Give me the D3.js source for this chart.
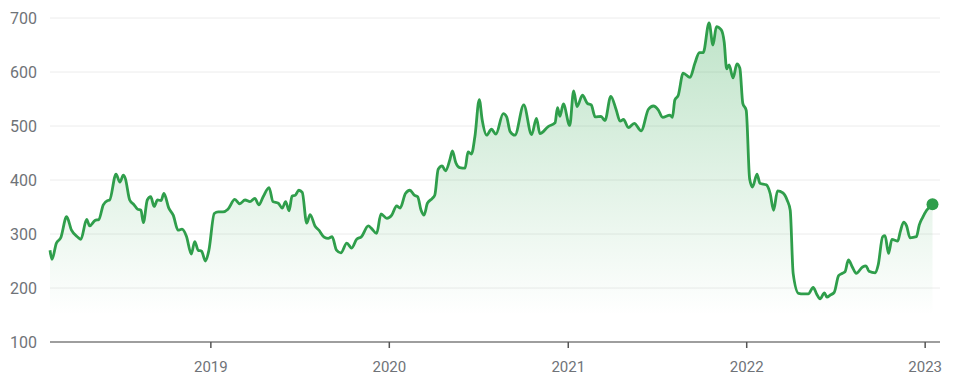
<!DOCTYPE html>
<html>
<head>
<meta charset="utf-8">
<script src="https://cdn.jsdelivr.net/npm/d3@7"></script>
<style>
  body { margin: 0; background: #fff; }
  .tick-label { font-family: Roboto, "Noto Sans", sans-serif; fill: #6f7378; }
</style>
</head>
<body>
<div class="chart"></div>
<script>

var dates = [
  "2018-02-06","2018-02-10","2018-02-19","2018-02-28","2018-03-12","2018-03-22","2018-04-04","2018-04-10",
  "2018-04-22","2018-04-28","2018-05-09","2018-05-17","2018-05-26","2018-06-04","2018-06-08","2018-06-21",
  "2018-06-29","2018-07-06","2018-07-10","2018-07-19","2018-07-28","2018-08-04","2018-08-11","2018-08-16",
  "2018-08-24","2018-08-31","2018-09-07","2018-09-14","2018-09-21","2018-09-27","2018-10-07","2018-10-16",
  "2018-10-26","2018-11-03","2018-11-12","2018-11-22","2018-11-29","2018-12-06","2018-12-13","2018-12-21",
  "2018-12-28","2019-01-08","2019-01-16","2019-01-26","2019-02-05","2019-02-19","2019-03-01","2019-03-12",
  "2019-03-22","2019-04-01","2019-04-09","2019-04-18","2019-04-30","2019-05-08","2019-05-19","2019-05-27",
  "2019-06-03","2019-06-10","2019-06-16","2019-06-23","2019-06-30","2019-07-07","2019-07-16","2019-07-23",
  "2019-08-02","2019-08-10","2019-08-21","2019-08-29","2019-09-06","2019-09-15","2019-09-24","2019-10-06",
  "2019-10-16","2019-10-26","2019-11-05","2019-11-19","2019-11-26","2019-12-06","2019-12-15","2019-12-27",
  "2020-01-06","2020-01-16","2020-01-23","2020-02-03","2020-02-12","2020-02-21","2020-02-28","2020-03-06",
  "2020-03-12","2020-03-19","2020-03-29","2020-04-03","2020-04-10","2020-04-18","2020-04-25","2020-05-04",
  "2020-05-09","2020-05-16","2020-05-24","2020-06-04","2020-06-10","2020-06-17","2020-06-24","2020-07-03",
  "2020-07-09","2020-07-18","2020-07-28","2020-08-06","2020-08-21","2020-08-28","2020-09-04","2020-09-14",
  "2020-10-02","2020-10-18","2020-10-28","2020-11-04","2020-11-21","2020-12-05","2020-12-10","2020-12-15",
  "2020-12-22","2021-01-04","2021-01-12","2021-01-19","2021-01-30","2021-02-09","2021-02-17","2021-02-25",
  "2021-03-09","2021-03-17","2021-03-29","2021-04-09","2021-04-17","2021-04-24","2021-05-04","2021-05-16",
  "2021-05-30","2021-06-14","2021-06-24","2021-07-04","2021-07-13","2021-07-28","2021-08-02","2021-08-07",
  "2021-08-14","2021-08-24","2021-09-07","2021-09-17","2021-09-26","2021-10-04","2021-10-16","2021-10-24",
  "2021-10-31","2021-11-10","2021-11-16","2021-11-21","2021-11-26","2021-12-04","2021-12-12","2021-12-18",
  "2021-12-24","2021-12-31","2022-01-07","2022-01-13","2022-01-22","2022-01-28","2022-02-10","2022-02-18",
  "2022-02-25","2022-03-05","2022-03-16","2022-03-25","2022-03-31","2022-04-06","2022-04-17","2022-04-27",
  "2022-05-07","2022-05-17","2022-05-24","2022-05-31","2022-06-09","2022-06-14","2022-06-21","2022-06-29",
  "2022-07-08","2022-07-15","2022-07-21","2022-07-28","2022-08-05","2022-08-13","2022-08-26","2022-09-02",
  "2022-09-08","2022-09-21","2022-09-27","2022-10-06","2022-10-11","2022-10-18","2022-10-25","2022-11-06",
  "2022-11-11","2022-11-18","2022-11-24","2022-12-01","2022-12-14","2022-12-20","2022-12-27","2023-01-04",
  "2023-01-16"
];

var prices = [
  270,253,283,293,332,307,294,290,
  327,315,325,327,354,362,363,411,
  396,409,403,363,354,346,344,321,
  363,369,351,363,362,375,348,335,
  307,309,296,263,286,270,268,250,
  270,338,341,341,346,364,356,363,
  360,366,354,369,386,360,357,348,
  360,343,370,372,381,377,320,336,
  315,307,294,292,295,270,265,283,
  274,290,295,315,310,301,337,329,
  335,352,348,375,381,372,369,344,
  335,357,366,372,420,426,417,438,
  454,432,423,422,452,448,480,549,
  511,483,494,485,523,517,490,483,
  539,484,514,486,499,506,534,518,
  541,501,565,536,557,542,539,517,
  518,510,555,530,509,512,497,505,
  491,531,537,530,516,520,516,548,
  557,598,590,616,636,636,691,650,
  684,678,655,606,613,589,615,607,
  542,529,402,387,411,394,391,375,
  344,380,376,362,344,227,190,189,
  189,201,189,180,191,183,187,192,
  223,227,230,252,239,227,239,241,
  231,228,243,295,297,264,290,287,
  304,322,315,293,295,317,331,344,
  355
];

var yTicks = [100, 200, 300, 400, 500, 600, 700];
var xTickYears = ["2019", "2020", "2021", "2022", "2023"];

var width = 968, height = 392;
var plotLeft = 50, plotRight = 940, plotTop = 18, plotBottom = 342;

var parse = d3.timeParse("%Y-%m-%d");
var series = dates.map((d, i) => ({date: parse(d), value: prices[i]}));

var svg = d3.select(".chart")
    .append("svg")
    .attr("width", width)
    .attr("height", height);

var x = d3.scaleTime()
    .domain(d3.extent(series, d => d.date))
    .range([plotLeft, 932.5]);

var y = d3.scaleLinear()
    .domain([100, 700])
    .range([plotBottom, plotTop]);

var grad = svg.append("defs").append("linearGradient")
    .attr("id", "fill")
    .attr("gradientUnits", "userSpaceOnUse")
    .attr("x1", 0).attr("x2", 0)
    .attr("y1", y(700)).attr("y2", y(150));
grad.append("stop").attr("offset", "0%").attr("stop-color", "#34a853").attr("stop-opacity", 0.32);
grad.append("stop").attr("offset", "100%").attr("stop-color", "#34a853").attr("stop-opacity", 0);

// grid
svg.selectAll(".grid")
    .data(yTicks.slice(1)).enter()
    .append("line")
    .attr("x1", plotLeft).attr("x2", plotRight)
    .attr("y1", d => y(d)).attr("y2", d => y(d))
    .attr("stroke", "#ececec")
    .attr("stroke-width", 1);

svg.selectAll(".ylab")
    .data(yTicks).enter()
    .append("text")
    .attr("class", "tick-label")
    .attr("x", 37)
    .attr("y", d => y(d))
    .attr("dy", "0.35em")
    .attr("text-anchor", "end")
    .attr("font-size", 16)
    .text(d => d);

svg.append("path")
    .datum(series)
    .attr("fill", "url(#fill)")
    .attr("d", d3.area()
        .x(d => x(d.date))
        .y0(y(100))
        .y1(d => y(d.value))
        .curve(d3.curveMonotoneX));

// x axis
svg.append("line")
    .attr("x1", plotLeft).attr("x2", plotRight)
    .attr("y1", y(100)).attr("y2", y(100))
    .attr("stroke", "#9e9e9e")
    .attr("stroke-width", 2);

var xt = svg.selectAll(".xt")
    .data(xTickYears.map(d => parse(d + "-01-01"))).enter()
    .append("g")
    .attr("transform", d => "translate(" + x(d) + ",0)");

xt.append("line")
    .attr("y1", y(100)).attr("y2", y(100) + 6)
    .attr("stroke", "#555")
    .attr("stroke-width", 1.5);

xt.append("text")
    .attr("class", "tick-label")
    .attr("y", 367)
    .attr("dy", "0.35em")
    .attr("text-anchor", "middle")
    .attr("font-size", 15)
    .text((d, i) => xTickYears[i]);

svg.append("path")
    .datum(series)
    .attr("fill", "none")
    .attr("stroke", "#2f9e4b")
    .attr("stroke-width", 2.8)
    .attr("stroke-linejoin", "round")
    .attr("d", d3.line()
        .x(d => x(d.date))
        .y(d => y(d.value))
        .curve(d3.curveMonotoneX));

var last = series[series.length - 1];
svg.append("circle")
    .attr("cx", x(last.date))
    .attr("cy", y(last.value))
    .attr("r", 6)
    .attr("fill", "#2f9e4b");

</script>
</body>
</html>
